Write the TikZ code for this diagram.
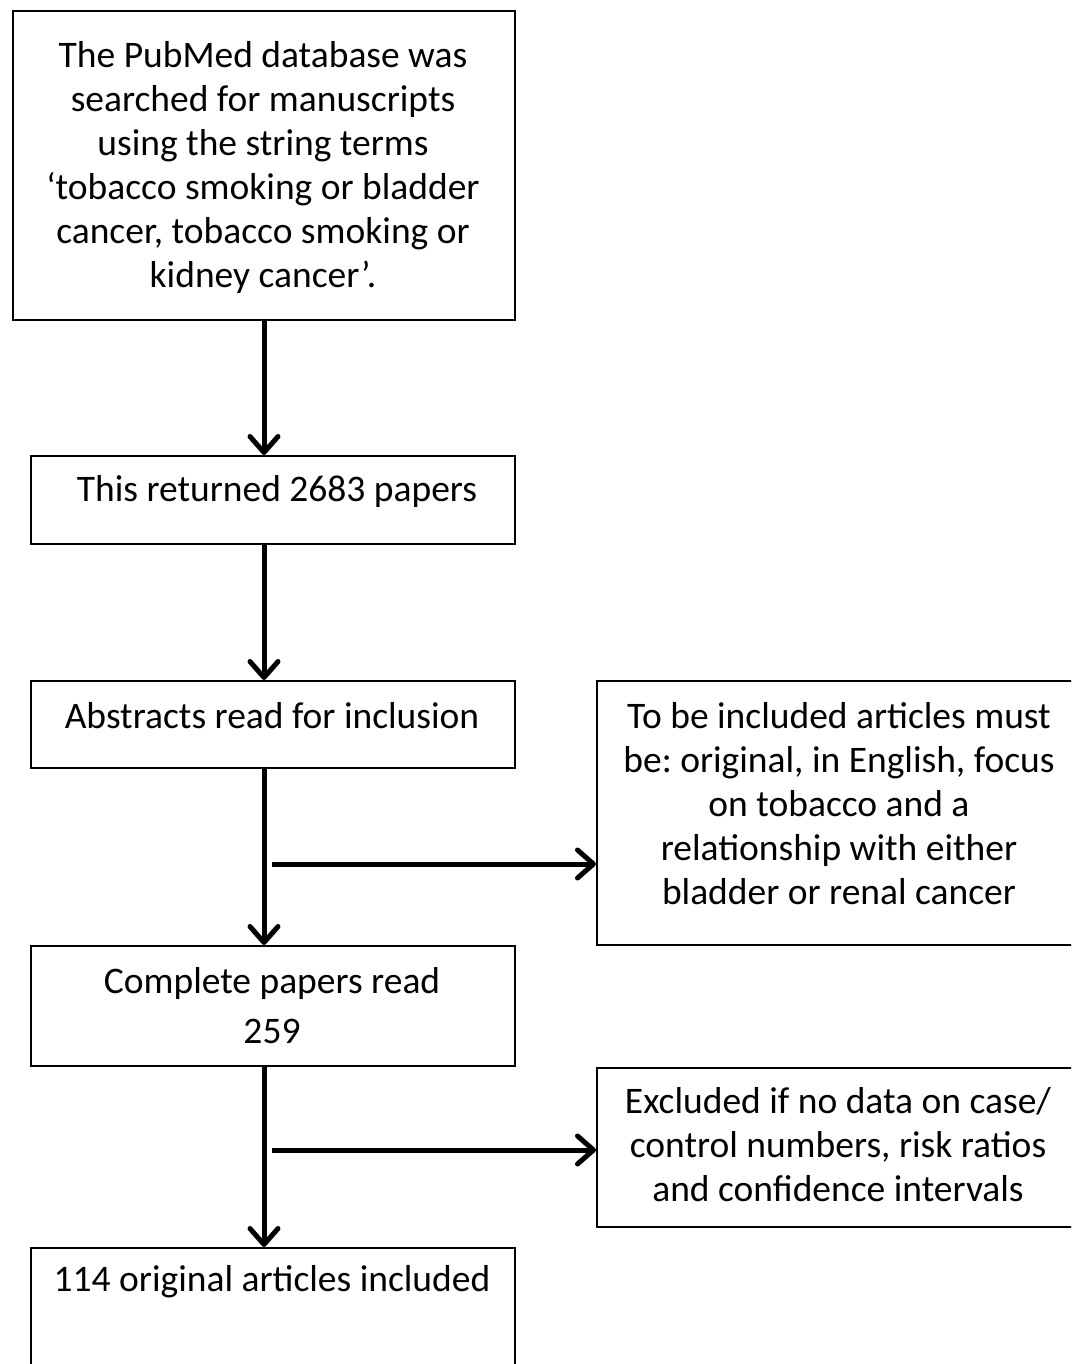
\documentclass[tikz,border=0pt]{standalone}
\usepackage{fontspec}
\setmainfont{Carlito}
\usetikzlibrary{arrows.meta}
\frenchspacing
\begin{document}
\begin{tikzpicture}[x=1pt,y=-1pt,
  box/.style={draw, line width=2pt, rectangle, inner sep=0pt, anchor=north west},
  txt/.style={align=center, font=\fontsize{37.5}{44}\selectfont, inner sep=0pt},
  arr/.style={line width=5pt, line join=round, -{Straight Barb[length=16pt,width=28pt,line join=round,line cap=round]}}]
\useasboundingbox (0,0) rectangle (1071,1364);
\clip (0,0) rectangle (1071,1364);
% boxes
\node[box, minimum width=502pt, minimum height=309pt] (b1) at (12,10) {};
\node[box, minimum width=484pt, minimum height=88pt] (b2) at (30,455) {};
\node[box, minimum width=484pt, minimum height=87pt] (b3) at (30,680) {};
\node[box, minimum width=484pt, minimum height=120pt] (b4) at (30,945) {};
\node[box, minimum width=484pt, minimum height=140pt] (b5) at (30,1247) {};
\node[box, minimum width=490pt, minimum height=264pt] (s1) at (596,680) {};
\node[box, minimum width=490pt, minimum height=159pt] (s2) at (596,1067) {};
% texts
\node[txt] (t1) at (263,168) {The PubMed database was\\searched for manuscripts\\using the string terms\\ `tobacco smoking or bladder\\cancer, tobacco smoking or\\kidney cancer'.};
\node[txt] (t2) at (277,491) {This returned 2683 papers};
\node[txt] (t3) at (272,716) {Abstracts read for inclusion};
\node[txt] (t4) at (272,1006) {Complete papers read\\[6pt]259};
\node[txt] (t5) at (272,1282) {114 original articles included};
\node[txt] (ts1) at (839,804) {To be included articles must\\be: original, in English, focus\\on tobacco and a\\relationship with either\\bladder or renal cancer};
\node[txt] (ts2) at (838,1145) {Excluded if no data on case/\\control numbers, risk ratios\\and confidence intervals};
% connectors
\coordinate (j1) at (272,864);
\coordinate (j2) at (272,1150);
\draw[arr] (b1.south) -- (b1.south |- b2.north);
\draw[arr] (b1.south |- b2.south) -- (b1.south |- b3.north);
\draw[arr] (b1.south |- b3.south) -- (b1.south |- b4.north);
\draw[arr] (b1.south |- b4.south) -- (b1.south |- b5.north);
\draw[arr] (j1) -- (j1 -| s1.west);
\draw[arr] (j2) -- (j2 -| s2.west);
\end{tikzpicture}
\end{document}
